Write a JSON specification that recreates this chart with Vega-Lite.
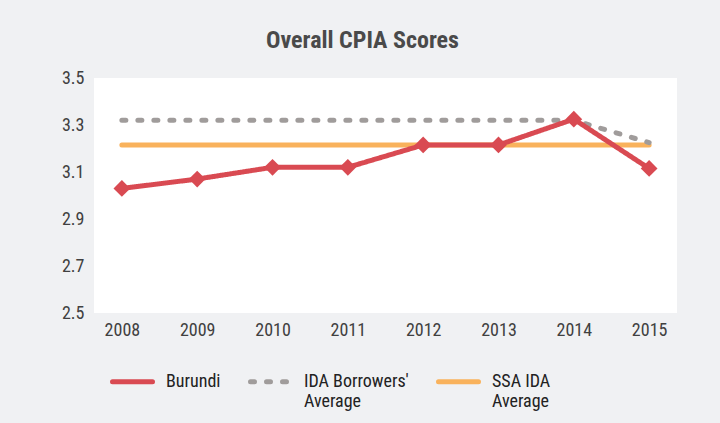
{
  "$schema": "https://vega.github.io/schema/vega-lite/v6.json",
  "width": 583,
  "height": 235,
  "autosize": {"type": "none"},
  "padding": {"left": 94, "top": 78, "right": 43, "bottom": 110},
  "background": "#f0f1f3",
  "config": {
    "view": {"fill": "#ffffff", "stroke": null},
    "font": "Roboto Condensed, Roboto, sans-serif",
    "axis": {"labelFont": "Roboto Condensed, Roboto, sans-serif", "labelFontSize": 18, "labelColor": "#404040", "domain": false, "ticks": false, "grid": false, "title": null},
    "legend": {"labelFont": "Roboto Condensed, Roboto, sans-serif", "labelFontSize": 18, "labelColor": "#222222"}
  },
  "title": {
    "text": "Overall CPIA Scores",
    "font": "Roboto Condensed, Roboto, sans-serif",
    "fontSize": 24,
    "fontWeight": "bold",
    "color": "#4a4a4a",
    "offset": 16,
    "dx": -23
  },
  "data": {
    "values": [
      {"year": "2008", "series": "Burundi", "score": 3.03},
      {"year": "2009", "series": "Burundi", "score": 3.07},
      {"year": "2010", "series": "Burundi", "score": 3.12},
      {"year": "2011", "series": "Burundi", "score": 3.12},
      {"year": "2012", "series": "Burundi", "score": 3.215},
      {"year": "2013", "series": "Burundi", "score": 3.215},
      {"year": "2014", "series": "Burundi", "score": 3.325},
      {"year": "2015", "series": "Burundi", "score": 3.115},
      {"year": "2008", "series": "IDA Borrowers' Average", "score": 3.32},
      {"year": "2009", "series": "IDA Borrowers' Average", "score": 3.32},
      {"year": "2010", "series": "IDA Borrowers' Average", "score": 3.32},
      {"year": "2011", "series": "IDA Borrowers' Average", "score": 3.32},
      {"year": "2012", "series": "IDA Borrowers' Average", "score": 3.32},
      {"year": "2013", "series": "IDA Borrowers' Average", "score": 3.32},
      {"year": "2014", "series": "IDA Borrowers' Average", "score": 3.32},
      {"year": "2015", "series": "IDA Borrowers' Average", "score": 3.225},
      {"year": "2008", "series": "SSA IDA Average", "score": 3.215},
      {"year": "2009", "series": "SSA IDA Average", "score": 3.215},
      {"year": "2010", "series": "SSA IDA Average", "score": 3.215},
      {"year": "2011", "series": "SSA IDA Average", "score": 3.215},
      {"year": "2012", "series": "SSA IDA Average", "score": 3.215},
      {"year": "2013", "series": "SSA IDA Average", "score": 3.215},
      {"year": "2014", "series": "SSA IDA Average", "score": 3.215},
      {"year": "2015", "series": "SSA IDA Average", "score": 3.215}
    ]
  },
  "encoding": {
    "x": {"field": "year", "type": "ordinal", "scale": {"type": "point", "padding": 0.37}, "axis": {"labelAngle": 0, "labelPadding": 8}},
    "y": {"field": "score", "type": "quantitative", "scale": {"domain": [2.5, 3.5], "nice": false, "zero": false}, "axis": {"values": [2.5, 2.7, 2.9, 3.1, 3.3, 3.5], "format": ".1f", "labelPadding": 10}}
  },
  "layer": [
    {
      "transform": [{"filter": "datum.series == 'SSA IDA Average'"}],
      "mark": {"type": "line", "strokeCap": "round"},
      "encoding": {
        "color": {"field": "series", "type": "nominal", "scale": {"domain": ["Burundi", "IDA Borrowers' Average", "SSA IDA Average"], "range": ["#d94a52", "#a09c9b", "#f9b25c"]}, "legend": {
          "title": null, "orient": "none", "legendX": 16, "legendY": 281, "direction": "horizontal",
          "symbolType": "stroke", "symbolSize": 1600, "symbolStrokeWidth": 5, "labelOffset": 11, "columnPadding": 19,
          "labelBaseline": "middle",
          "labelExpr": "datum.label == 'Burundi' ? ['Burundi', ' '] : datum.label == 'SSA IDA Average' ? ['SSA IDA', 'Average'] : [\"IDA Borrowers'\", 'Average']",
          "encode": {"symbols": {"update": {"strokeCap": {"value": "round"}}}}
        }},
        "strokeWidth": {"field": "series", "type": "nominal", "scale": {"domain": ["Burundi", "IDA Borrowers' Average", "SSA IDA Average"], "range": [5, 5, 7]}},
        "strokeDash": {"field": "series", "type": "nominal", "scale": {"domain": ["Burundi", "IDA Borrowers' Average", "SSA IDA Average"], "range": [[1, 0], [4, 12], [1, 0]]}}
      }
    },
    {
      "transform": [{"filter": "datum.series == \"IDA Borrowers' Average\""}],
      "mark": {"type": "line", "strokeCap": "round"},
      "encoding": {
        "color": {"field": "series", "type": "nominal"},
        "strokeWidth": {"field": "series", "type": "nominal"},
        "strokeDash": {"field": "series", "type": "nominal"}
      }
    },
    {
      "transform": [{"filter": "datum.series == 'Burundi'"}],
      "mark": {"type": "line"},
      "encoding": {
        "color": {"field": "series", "type": "nominal"},
        "strokeWidth": {"field": "series", "type": "nominal"},
        "strokeDash": {"field": "series", "type": "nominal"}
      }
    },
    {
      "transform": [{"filter": "datum.series == 'Burundi'"}],
      "mark": {"type": "point", "shape": "diamond", "filled": true, "size": 280, "color": "#d94a52", "opacity": 1}
    }
  ]
}
